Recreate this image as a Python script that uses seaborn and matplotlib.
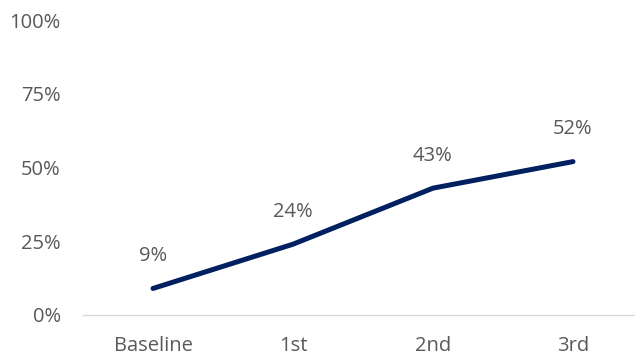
import matplotlib
matplotlib.use("Agg")
import matplotlib.pyplot as plt
import seaborn as sns
import pandas as pd

rounds = ["Baseline", "1st", "2nd", "3rd"]
share = [9, 24, 43, 52]
y_ticks = [0, 25, 50, 75, 100]
y_tick_labels = ["0%", "25%", "50%", "75%", "100%"]

sns.set_theme(style="white")
plt.rcParams["font.family"] = ["Open Sans", "DejaVu Sans"]

df = pd.DataFrame({"round": rounds, "share": share, "pos": range(len(rounds))})

fig = plt.figure(figsize=(6.35, 3.58), dpi=100)
ax = fig.add_axes([83 / 635, 43 / 358, (635 - 83) / 635, (315 - 20) / 358])

sns.lineplot(data=df, x="pos", y="share", ax=ax, color="#002060",
             linewidth=3.6, solid_capstyle="round")

for x, y in zip(df["pos"], df["share"]):
    ax.annotate(f"{y}%", (x, y), xytext=(0, 23.5), textcoords="offset points",
                ha="center", va="center", fontsize=14.5, color="#595959")

ax.set_xlim(-0.5, 3 + (635 - 573) / 140)
ax.set_ylim(0, 100)
ax.set_xticks(range(len(rounds)))
ax.set_xticklabels(rounds)
ax.set_yticks(y_ticks)
ax.set_yticklabels(y_tick_labels)
ax.tick_params(axis="both", length=0, labelsize=14.5, colors="#595959")
ax.tick_params(axis="x", pad=15)
ax.tick_params(axis="y", pad=16)
ax.set_xlabel("")
ax.set_ylabel("")
for side in ["top", "right", "left"]:
    ax.spines[side].set_visible(False)
ax.spines["bottom"].set_color("#D9D9D9")
ax.spines["bottom"].set_linewidth(1.0)
ax.grid(False)

fig.savefig("out.png", dpi=100)
